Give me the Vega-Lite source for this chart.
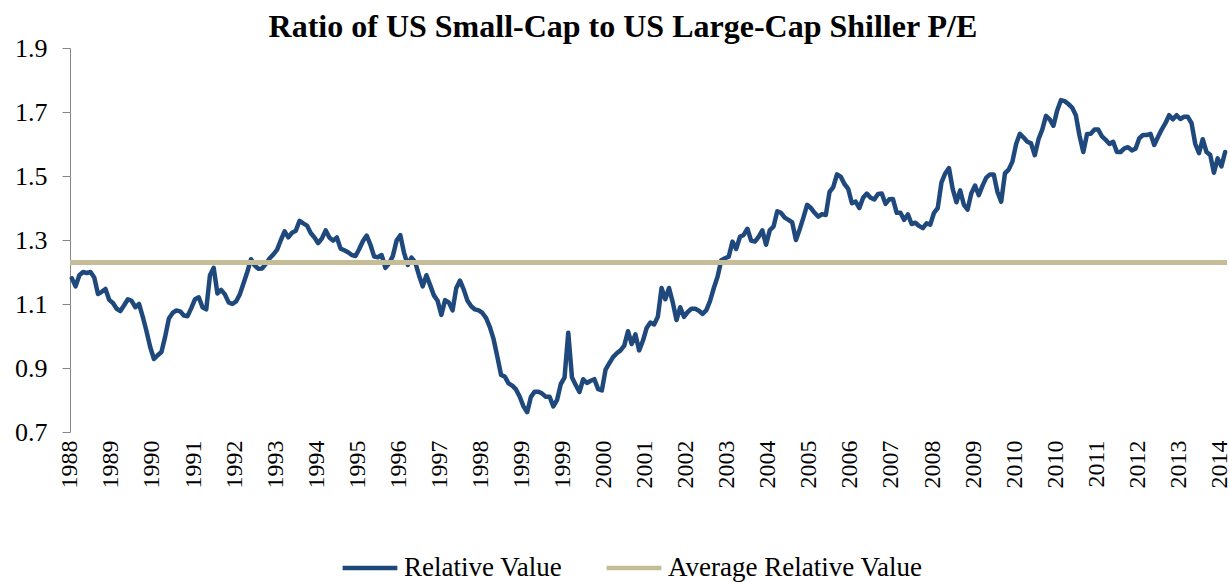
{
  "$schema": "https://vega.github.io/schema/vega-lite/v6.json",
  "width": 1157,
  "height": 384,
  "autosize": {"type": "none"},
  "padding": {"left": 70, "top": 48, "right": 3, "bottom": 150},
  "background": "white",
  "title": {"text": "Ratio of US Small-Cap to US Large-Cap Shiller P/E", "font": "Liberation Serif", "fontSize": 32, "fontWeight": "bold", "color": "black", "anchor": "middle", "frame": "bounds", "offset": -9},
  "config": {"view": {"stroke": null}, "font": "Liberation Serif"},
  "datasets": {
    "ratio": [
      {"month": "1988-12", "value": 1.18},
      {"month": "1989-01", "value": 1.155}, {"month": "1989-02", "value": 1.19}, {"month": "1989-03", "value": 1.2}, {"month": "1989-04", "value": 1.197}, {"month": "1989-05", "value": 1.2}, {"month": "1989-06", "value": 1.183}, {"month": "1989-07", "value": 1.131}, {"month": "1989-08", "value": 1.138}, {"month": "1989-09", "value": 1.147}, {"month": "1989-10", "value": 1.113}, {"month": "1989-11", "value": 1.103}, {"month": "1989-12", "value": 1.085},
      {"month": "1990-01", "value": 1.078}, {"month": "1990-02", "value": 1.096}, {"month": "1990-03", "value": 1.115}, {"month": "1990-04", "value": 1.11}, {"month": "1990-05", "value": 1.09}, {"month": "1990-06", "value": 1.1}, {"month": "1990-07", "value": 1.06}, {"month": "1990-08", "value": 1.015}, {"month": "1990-09", "value": 0.965}, {"month": "1990-10", "value": 0.928}, {"month": "1990-11", "value": 0.94}, {"month": "1990-12", "value": 0.95},
      {"month": "1991-01", "value": 0.998}, {"month": "1991-02", "value": 1.055}, {"month": "1991-03", "value": 1.072}, {"month": "1991-04", "value": 1.08}, {"month": "1991-05", "value": 1.077}, {"month": "1991-06", "value": 1.064}, {"month": "1991-07", "value": 1.062}, {"month": "1991-08", "value": 1.087}, {"month": "1991-09", "value": 1.115}, {"month": "1991-10", "value": 1.121}, {"month": "1991-11", "value": 1.09}, {"month": "1991-12", "value": 1.083},
      {"month": "1992-01", "value": 1.19}, {"month": "1992-02", "value": 1.213}, {"month": "1992-03", "value": 1.133}, {"month": "1992-04", "value": 1.144}, {"month": "1992-05", "value": 1.13}, {"month": "1992-06", "value": 1.105}, {"month": "1992-07", "value": 1.1}, {"month": "1992-08", "value": 1.108}, {"month": "1992-09", "value": 1.13}, {"month": "1992-10", "value": 1.165}, {"month": "1992-11", "value": 1.2}, {"month": "1992-12", "value": 1.24},
      {"month": "1993-01", "value": 1.22}, {"month": "1993-02", "value": 1.21}, {"month": "1993-03", "value": 1.211}, {"month": "1993-04", "value": 1.226}, {"month": "1993-05", "value": 1.243}, {"month": "1993-06", "value": 1.255}, {"month": "1993-07", "value": 1.27}, {"month": "1993-08", "value": 1.3}, {"month": "1993-09", "value": 1.327}, {"month": "1993-10", "value": 1.308}, {"month": "1993-11", "value": 1.323}, {"month": "1993-12", "value": 1.329},
      {"month": "1994-01", "value": 1.36}, {"month": "1994-02", "value": 1.352}, {"month": "1994-03", "value": 1.345}, {"month": "1994-04", "value": 1.322}, {"month": "1994-05", "value": 1.308}, {"month": "1994-06", "value": 1.29}, {"month": "1994-07", "value": 1.305}, {"month": "1994-08", "value": 1.33}, {"month": "1994-09", "value": 1.308}, {"month": "1994-10", "value": 1.298}, {"month": "1994-11", "value": 1.308}, {"month": "1994-12", "value": 1.273},
      {"month": "1995-01", "value": 1.268}, {"month": "1995-02", "value": 1.262}, {"month": "1995-03", "value": 1.253}, {"month": "1995-04", "value": 1.25}, {"month": "1995-05", "value": 1.272}, {"month": "1995-06", "value": 1.297}, {"month": "1995-07", "value": 1.314}, {"month": "1995-08", "value": 1.285}, {"month": "1995-09", "value": 1.248}, {"month": "1995-10", "value": 1.246}, {"month": "1995-11", "value": 1.253}, {"month": "1995-12", "value": 1.213},
      {"month": "1996-01", "value": 1.227}, {"month": "1996-02", "value": 1.25}, {"month": "1996-03", "value": 1.298}, {"month": "1996-04", "value": 1.315}, {"month": "1996-05", "value": 1.26}, {"month": "1996-06", "value": 1.222}, {"month": "1996-07", "value": 1.245}, {"month": "1996-08", "value": 1.23}, {"month": "1996-09", "value": 1.19}, {"month": "1996-10", "value": 1.155}, {"month": "1996-11", "value": 1.19}, {"month": "1996-12", "value": 1.159},
      {"month": "1997-01", "value": 1.127}, {"month": "1997-02", "value": 1.11}, {"month": "1997-03", "value": 1.066}, {"month": "1997-04", "value": 1.112}, {"month": "1997-05", "value": 1.105}, {"month": "1997-06", "value": 1.08}, {"month": "1997-07", "value": 1.15}, {"month": "1997-08", "value": 1.173}, {"month": "1997-09", "value": 1.145}, {"month": "1997-10", "value": 1.11}, {"month": "1997-11", "value": 1.093}, {"month": "1997-12", "value": 1.083},
      {"month": "1998-01", "value": 1.08}, {"month": "1998-02", "value": 1.072}, {"month": "1998-03", "value": 1.056}, {"month": "1998-04", "value": 1.028}, {"month": "1998-05", "value": 0.99}, {"month": "1998-06", "value": 0.935}, {"month": "1998-07", "value": 0.878}, {"month": "1998-08", "value": 0.873}, {"month": "1998-09", "value": 0.852}, {"month": "1998-10", "value": 0.845}, {"month": "1998-11", "value": 0.833}, {"month": "1998-12", "value": 0.81},
      {"month": "1999-01", "value": 0.78}, {"month": "1999-02", "value": 0.762}, {"month": "1999-03", "value": 0.81}, {"month": "1999-04", "value": 0.826}, {"month": "1999-05", "value": 0.826}, {"month": "1999-06", "value": 0.82}, {"month": "1999-07", "value": 0.81}, {"month": "1999-08", "value": 0.81}, {"month": "1999-09", "value": 0.78}, {"month": "1999-10", "value": 0.8}, {"month": "1999-11", "value": 0.85}, {"month": "1999-12", "value": 0.87},
      {"month": "2000-01", "value": 1.01}, {"month": "2000-02", "value": 0.87}, {"month": "2000-03", "value": 0.847}, {"month": "2000-04", "value": 0.825}, {"month": "2000-05", "value": 0.865}, {"month": "2000-06", "value": 0.853}, {"month": "2000-07", "value": 0.86}, {"month": "2000-08", "value": 0.865}, {"month": "2000-09", "value": 0.834}, {"month": "2000-10", "value": 0.83}, {"month": "2000-11", "value": 0.895}, {"month": "2000-12", "value": 0.915},
      {"month": "2001-01", "value": 0.934}, {"month": "2001-02", "value": 0.946}, {"month": "2001-03", "value": 0.955}, {"month": "2001-04", "value": 0.97}, {"month": "2001-05", "value": 1.015}, {"month": "2001-06", "value": 0.975}, {"month": "2001-07", "value": 1.005}, {"month": "2001-08", "value": 0.955}, {"month": "2001-09", "value": 0.985}, {"month": "2001-10", "value": 1.025}, {"month": "2001-11", "value": 1.042}, {"month": "2001-12", "value": 1.036},
      {"month": "2002-01", "value": 1.06}, {"month": "2002-02", "value": 1.15}, {"month": "2002-03", "value": 1.115}, {"month": "2002-04", "value": 1.15}, {"month": "2002-05", "value": 1.105}, {"month": "2002-06", "value": 1.05}, {"month": "2002-07", "value": 1.09}, {"month": "2002-08", "value": 1.06}, {"month": "2002-09", "value": 1.075}, {"month": "2002-10", "value": 1.085}, {"month": "2002-11", "value": 1.085}, {"month": "2002-12", "value": 1.079},
      {"month": "2003-01", "value": 1.069}, {"month": "2003-02", "value": 1.081}, {"month": "2003-03", "value": 1.11}, {"month": "2003-04", "value": 1.15}, {"month": "2003-05", "value": 1.185}, {"month": "2003-06", "value": 1.237}, {"month": "2003-07", "value": 1.243}, {"month": "2003-08", "value": 1.248}, {"month": "2003-09", "value": 1.295}, {"month": "2003-10", "value": 1.272}, {"month": "2003-11", "value": 1.31}, {"month": "2003-12", "value": 1.316},
      {"month": "2004-01", "value": 1.335}, {"month": "2004-02", "value": 1.298}, {"month": "2004-03", "value": 1.295}, {"month": "2004-04", "value": 1.31}, {"month": "2004-05", "value": 1.33}, {"month": "2004-06", "value": 1.285}, {"month": "2004-07", "value": 1.331}, {"month": "2004-08", "value": 1.342}, {"month": "2004-09", "value": 1.39}, {"month": "2004-10", "value": 1.385}, {"month": "2004-11", "value": 1.37}, {"month": "2004-12", "value": 1.363},
      {"month": "2005-01", "value": 1.355}, {"month": "2005-02", "value": 1.3}, {"month": "2005-03", "value": 1.333}, {"month": "2005-04", "value": 1.37}, {"month": "2005-05", "value": 1.41}, {"month": "2005-06", "value": 1.4}, {"month": "2005-07", "value": 1.385}, {"month": "2005-08", "value": 1.373}, {"month": "2005-09", "value": 1.381}, {"month": "2005-10", "value": 1.378}, {"month": "2005-11", "value": 1.45}, {"month": "2005-12", "value": 1.465},
      {"month": "2006-01", "value": 1.505}, {"month": "2006-02", "value": 1.498}, {"month": "2006-03", "value": 1.475}, {"month": "2006-04", "value": 1.46}, {"month": "2006-05", "value": 1.415}, {"month": "2006-06", "value": 1.42}, {"month": "2006-07", "value": 1.4}, {"month": "2006-08", "value": 1.432}, {"month": "2006-09", "value": 1.445}, {"month": "2006-10", "value": 1.432}, {"month": "2006-11", "value": 1.427}, {"month": "2006-12", "value": 1.444},
      {"month": "2007-01", "value": 1.445}, {"month": "2007-02", "value": 1.413}, {"month": "2007-03", "value": 1.427}, {"month": "2007-04", "value": 1.428}, {"month": "2007-05", "value": 1.385}, {"month": "2007-06", "value": 1.385}, {"month": "2007-07", "value": 1.363}, {"month": "2007-08", "value": 1.38}, {"month": "2007-09", "value": 1.35}, {"month": "2007-10", "value": 1.354}, {"month": "2007-11", "value": 1.344}, {"month": "2007-12", "value": 1.337},
      {"month": "2008-01", "value": 1.352}, {"month": "2008-02", "value": 1.348}, {"month": "2008-03", "value": 1.385}, {"month": "2008-04", "value": 1.4}, {"month": "2008-05", "value": 1.48}, {"month": "2008-06", "value": 1.508}, {"month": "2008-07", "value": 1.525}, {"month": "2008-08", "value": 1.46}, {"month": "2008-09", "value": 1.418}, {"month": "2008-10", "value": 1.455}, {"month": "2008-11", "value": 1.41}, {"month": "2008-12", "value": 1.395},
      {"month": "2009-01", "value": 1.446}, {"month": "2009-02", "value": 1.47}, {"month": "2009-03", "value": 1.44}, {"month": "2009-04", "value": 1.47}, {"month": "2009-05", "value": 1.495}, {"month": "2009-06", "value": 1.505}, {"month": "2009-07", "value": 1.505}, {"month": "2009-08", "value": 1.45}, {"month": "2009-09", "value": 1.42}, {"month": "2009-10", "value": 1.508}, {"month": "2009-11", "value": 1.52}, {"month": "2009-12", "value": 1.545},
      {"month": "2010-01", "value": 1.6}, {"month": "2010-02", "value": 1.632}, {"month": "2010-03", "value": 1.62}, {"month": "2010-04", "value": 1.607}, {"month": "2010-05", "value": 1.602}, {"month": "2010-06", "value": 1.565}, {"month": "2010-07", "value": 1.615}, {"month": "2010-08", "value": 1.645}, {"month": "2010-09", "value": 1.688}, {"month": "2010-10", "value": 1.677}, {"month": "2010-11", "value": 1.657}, {"month": "2010-12", "value": 1.705},
      {"month": "2011-01", "value": 1.737}, {"month": "2011-02", "value": 1.734}, {"month": "2011-03", "value": 1.725}, {"month": "2011-04", "value": 1.714}, {"month": "2011-05", "value": 1.69}, {"month": "2011-06", "value": 1.625}, {"month": "2011-07", "value": 1.575}, {"month": "2011-08", "value": 1.631}, {"month": "2011-09", "value": 1.632}, {"month": "2011-10", "value": 1.645}, {"month": "2011-11", "value": 1.645}, {"month": "2011-12", "value": 1.624},
      {"month": "2012-01", "value": 1.613}, {"month": "2012-02", "value": 1.6}, {"month": "2012-03", "value": 1.607}, {"month": "2012-04", "value": 1.575}, {"month": "2012-05", "value": 1.575}, {"month": "2012-06", "value": 1.586}, {"month": "2012-07", "value": 1.59}, {"month": "2012-08", "value": 1.58}, {"month": "2012-09", "value": 1.585}, {"month": "2012-10", "value": 1.618}, {"month": "2012-11", "value": 1.628}, {"month": "2012-12", "value": 1.628},
      {"month": "2013-01", "value": 1.632}, {"month": "2013-02", "value": 1.597}, {"month": "2013-03", "value": 1.622}, {"month": "2013-04", "value": 1.645}, {"month": "2013-05", "value": 1.665}, {"month": "2013-06", "value": 1.69}, {"month": "2013-07", "value": 1.677}, {"month": "2013-08", "value": 1.69}, {"month": "2013-09", "value": 1.678}, {"month": "2013-10", "value": 1.685}, {"month": "2013-11", "value": 1.685}, {"month": "2013-12", "value": 1.665},
      {"month": "2014-01", "value": 1.6}, {"month": "2014-02", "value": 1.571}, {"month": "2014-03", "value": 1.615}, {"month": "2014-04", "value": 1.575}, {"month": "2014-05", "value": 1.566}, {"month": "2014-06", "value": 1.51}, {"month": "2014-07", "value": 1.555}, {"month": "2014-08", "value": 1.53}, {"month": "2014-09", "value": 1.575}
    ],
    "average": [{"series": "Average Relative Value", "value": 1.23}]
  },
  "layer": [
    {
      "data": {"name": "ratio"},
      "mark": {"type": "line", "strokeWidth": 4.5, "strokeJoin": "round", "strokeCap": "round"},
      "encoding": {
        "x": {
          "field": "month", "type": "ordinal",
          "scale": {"type": "point", "padding": 0.5},
          "axis": {
            "title": null,
            "values": ["1988-12","1989-11","1990-10","1991-09","1992-08","1993-07","1994-06","1995-05","1996-04","1997-03","1998-02","1999-01","1999-12","2000-11","2001-10","2002-09","2003-08","2004-07","2005-06","2006-05","2007-04","2008-03","2009-02","2010-01","2010-12","2011-11","2012-10","2013-09","2014-08"],
            "labelExpr": "substring(datum.value, 0, 4)",
            "labelAngle": 270,
            "labelAlign": "right",
            "labelBaseline": "middle",
            "labelFont": "Liberation Serif",
            "labelFontSize": 24,
            "labelColor": "black",
            "labelPadding": 8,
            "labelOffset": -2,
            "labelOverlap": false,
            "labelBound": false,
            "ticks": false,
            "domain": false,
            "grid": false
          }
        },
        "y": {
          "field": "value", "type": "quantitative",
          "scale": {"domain": [0.7, 1.9], "nice": false, "zero": false},
          "axis": {
            "title": null,
            "values": [0.7, 0.9, 1.1, 1.3, 1.5, 1.7, 1.9],
            "format": ".1f",
            "grid": false,
            "tickSize": 8,
            "tickColor": "#868686",
            "domainColor": "#868686",
            "labelFont": "Liberation Serif",
            "labelFontSize": 26,
            "labelColor": "black",
            "labelPadding": 15
          }
        },
        "color": {
          "datum": "Relative Value", "type": "nominal",
          "scale": {"domain": ["Relative Value", "Average Relative Value"], "range": ["#1F497D", "#C4BD97"]},
          "legend": {
            "title": null,
            "orient": "none",
            "legendX": 270,
            "legendY": 490,
            "direction": "horizontal",
            "symbolType": "stroke",
            "symbolSize": 3000,
            "symbolStrokeWidth": 4.5,
            "labelFont": "Liberation Serif",
            "labelFontSize": 27,
            "labelColor": "black",
            "labelOffset": 4,
            "labelLimit": 500,
            "columnPadding": 34,
            "padding": 0
          }
        }
      }
    },
    {
      "data": {"name": "average"},
      "mark": {"type": "rule", "strokeWidth": 5},
      "encoding": {
        "y": {"field": "value", "type": "quantitative", "scale": {"domain": [0.7, 1.9], "nice": false, "zero": false}},
        "color": {
          "field": "series", "type": "nominal",
          "legend": {
            "title": null,
            "orient": "none",
            "legendX": 270,
            "legendY": 490,
            "direction": "horizontal",
            "symbolType": "stroke",
            "symbolSize": 3000,
            "symbolStrokeWidth": 4.5,
            "labelFont": "Liberation Serif",
            "labelFontSize": 27,
            "labelColor": "black",
            "labelOffset": 4,
            "labelLimit": 500,
            "columnPadding": 34,
            "padding": 0
          }
        }
      }
    }
  ]
}
